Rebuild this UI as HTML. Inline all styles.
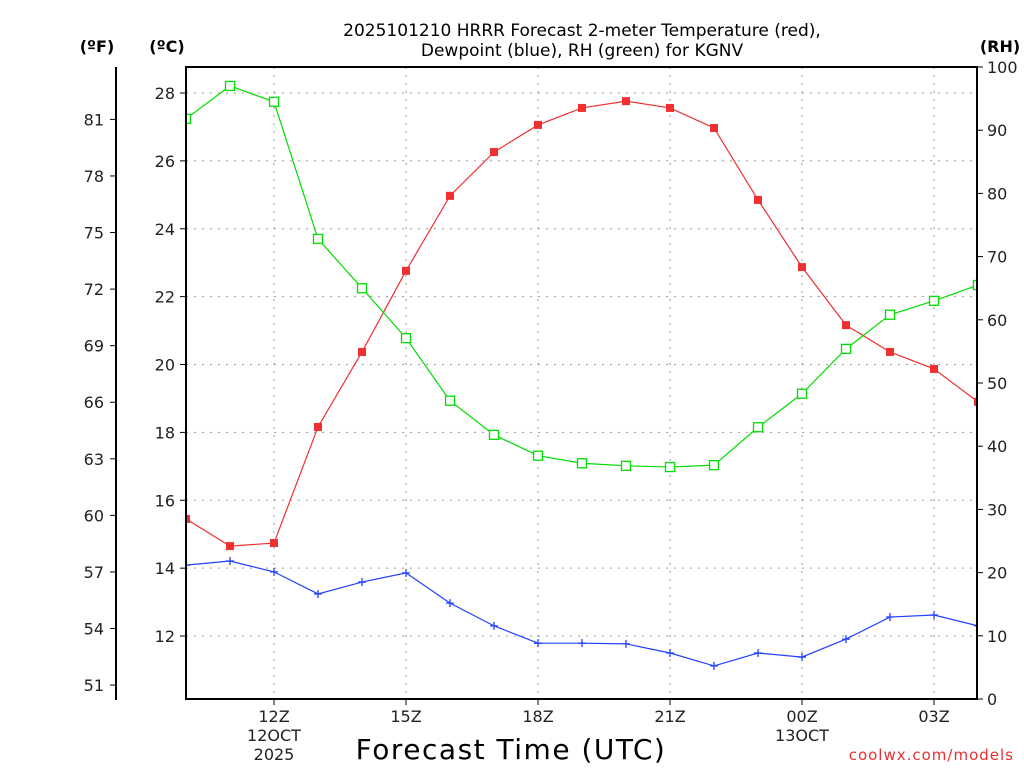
<!DOCTYPE html>
<html><head><meta charset="utf-8"><style>
body{margin:0;background:#fff;}
svg{display:block;font-family:"DejaVu Sans","Liberation Sans",sans-serif;}
</style></head><body>
<svg id="c" width="1024" height="768" viewBox="0 0 1024 768" xmlns="http://www.w3.org/2000/svg">
<defs><clipPath id="clip"><rect x="186" y="67" width="791" height="632"/></clipPath></defs>
<text x="582" y="36" font-size="17" text-anchor="middle" fill="#000">2025101210 HRRR Forecast 2-meter Temperature (red),</text>
<text x="582" y="56" font-size="17" text-anchor="middle" fill="#000">Dewpoint (blue), RH (green) for KGNV</text>
<text x="97" y="52" font-size="16" font-weight="bold" text-anchor="middle">(ºF)</text>
<text x="167" y="52" font-size="16" font-weight="bold" text-anchor="middle">(ºC)</text>
<text x="1000" y="52" font-size="16" font-weight="bold" text-anchor="middle">(RH)</text>
<text x="511" y="759" font-size="28" letter-spacing="1.5" text-anchor="middle">Forecast Time (UTC)</text>
<text x="1014" y="760" font-size="15" text-anchor="end" fill="#e83030" letter-spacing="1">coolwx.com/models</text>
<g id="grid"></g>
<g id="axes"></g>
<g id="series" clip-path="url(#clip)"></g>
<rect x="186" y="67" width="791" height="632" fill="none" stroke="#000" stroke-width="2"/>
</svg>
<script>
const hours = ["10","11","12","13","14","15","16","17","18","19","20","21","22","23","00","01","02","03","04"];
const tempC = [15.45,14.65,14.74,18.16,20.37,22.76,24.97,26.26,27.06,27.56,27.76,27.56,26.97,24.85,22.87,21.16,20.37,19.87,18.90];
const dewC = [14.09,14.21,13.89,13.24,13.59,13.86,12.97,12.30,11.79,11.79,11.77,11.50,11.12,11.50,11.38,11.91,12.56,12.62,12.30];
const rh = [91.8,97.0,94.5,72.8,65.0,57.1,47.2,41.8,38.5,37.3,36.9,36.7,37.0,43.0,48.3,55.4,60.8,63.0,65.5];
const cTicks = [12,14,16,18,20,22,24,26,28];
const fTicks = [51,54,57,60,63,66,69,72,75,78,81];
const rhTicks = [0,10,20,30,40,50,60,70,80,90,100];
const xTickIdx = [2,5,8,11,14,17];
const xTickLabels = ["12Z","15Z","18Z","21Z","00Z","03Z"];
const xSub = {2:["12OCT","2025"],14:["13OCT"]};

const NS="http://www.w3.org/2000/svg";
const x = i => 186 + i*44;
const yC = c => 93 + (28-c)*33.94;
const yF = f => yC((f-32)*5/9);
const yR = r => 699 - r*6.32;
function mk(tag, attrs, parent, text){const e=document.createElementNS(NS,tag);for(const k in attrs)e.setAttribute(k,attrs[k]);if(text!==undefined)e.textContent=text;document.getElementById(parent).appendChild(e);return e;}

cTicks.forEach(c=>{
  const g=mk('line',{x1:186,x2:977,y1:yC(c),y2:yC(c),stroke:'#999','stroke-dasharray':'2,6'},'grid');
  
  
  const t=mk('line',{x1:180,x2:186,y1:yC(c),y2:yC(c),stroke:'#000'},'axes');
  
  
  const l=mk('text',{x:175,y:yC(c)+6,'font-size':16,'text-anchor':'end',fill:'#222'},'axes',c);
  
  
});
const fl=mk('line',{x1:116,x2:116,y1:67,y2:700,stroke:'#000','stroke-width':2},'axes');


fTicks.forEach(f=>{
  const t=mk('line',{x1:110,x2:116,y1:yF(f),y2:yF(f),stroke:'#000'},'axes');
  
  
  const l=mk('text',{x:104,y:yF(f)+6,'font-size':16,'text-anchor':'end',fill:'#222'},'axes',f);
  
  
});
rhTicks.forEach(r=>{
  const t=mk('line',{x1:977,x2:983,y1:yR(r),y2:yR(r),stroke:'#000'},'axes');
  
  
  const l=mk('text',{x:987,y:yR(r)+6,'font-size':16,fill:'#222'},'axes',r);
  
  
});
xTickIdx.forEach((i,k)=>{
  const g=mk('line',{x1:x(i),x2:x(i),y1:67,y2:699,stroke:'#999','stroke-dasharray':'2,6'},'grid');
  
  
  const t=mk('line',{x1:x(i),x2:x(i),y1:699,y2:705,stroke:'#000'},'axes');
  
  
  const l=mk('text',{x:x(i),y:722,'font-size':16,'text-anchor':'middle',fill:'#222'},'axes',xTickLabels[k]);
  
  
  (xSub[i]||[]).forEach((s,j)=>{
    const l2=mk('text',{x:x(i),y:741+j*19,'font-size':16,'text-anchor':'middle',fill:'#222'},'axes',s);
    
    
  });
});
function line(vals, yf, color, name){
  const p=mk('polyline',{points:vals.map((v,i)=>x(i)+','+yf(v)).join(' '),fill:'none',stroke:color,'stroke-width':1.2},'series');
  
  
}
line(tempC,yC,'#f03030','temperature-line');
line(dewC,yC,'#2040ff','dewpoint-line');
line(rh,yR,'#00dd00','rh-line');
tempC.forEach((v,i)=>{
  const m=mk('rect',{x:x(i)-4,y:yC(v)-4,width:8,height:8,fill:'#f03030'},'series');
  
  
});
rh.forEach((v,i)=>{
  const m=mk('rect',{x:x(i)-4.5,y:yR(v)-4.5,width:9,height:9,fill:'#fff',stroke:'#00dd00','stroke-width':1.3},'series');
  
  
});
dewC.forEach((v,i)=>{
  const m=mk('path',{d:`M${x(i)-4},${yC(v)}h8M${x(i)},${yC(v)-4}v8`,stroke:'#2040ff','stroke-width':1.3},'series');
  
  
});
</script>
</body></html>
